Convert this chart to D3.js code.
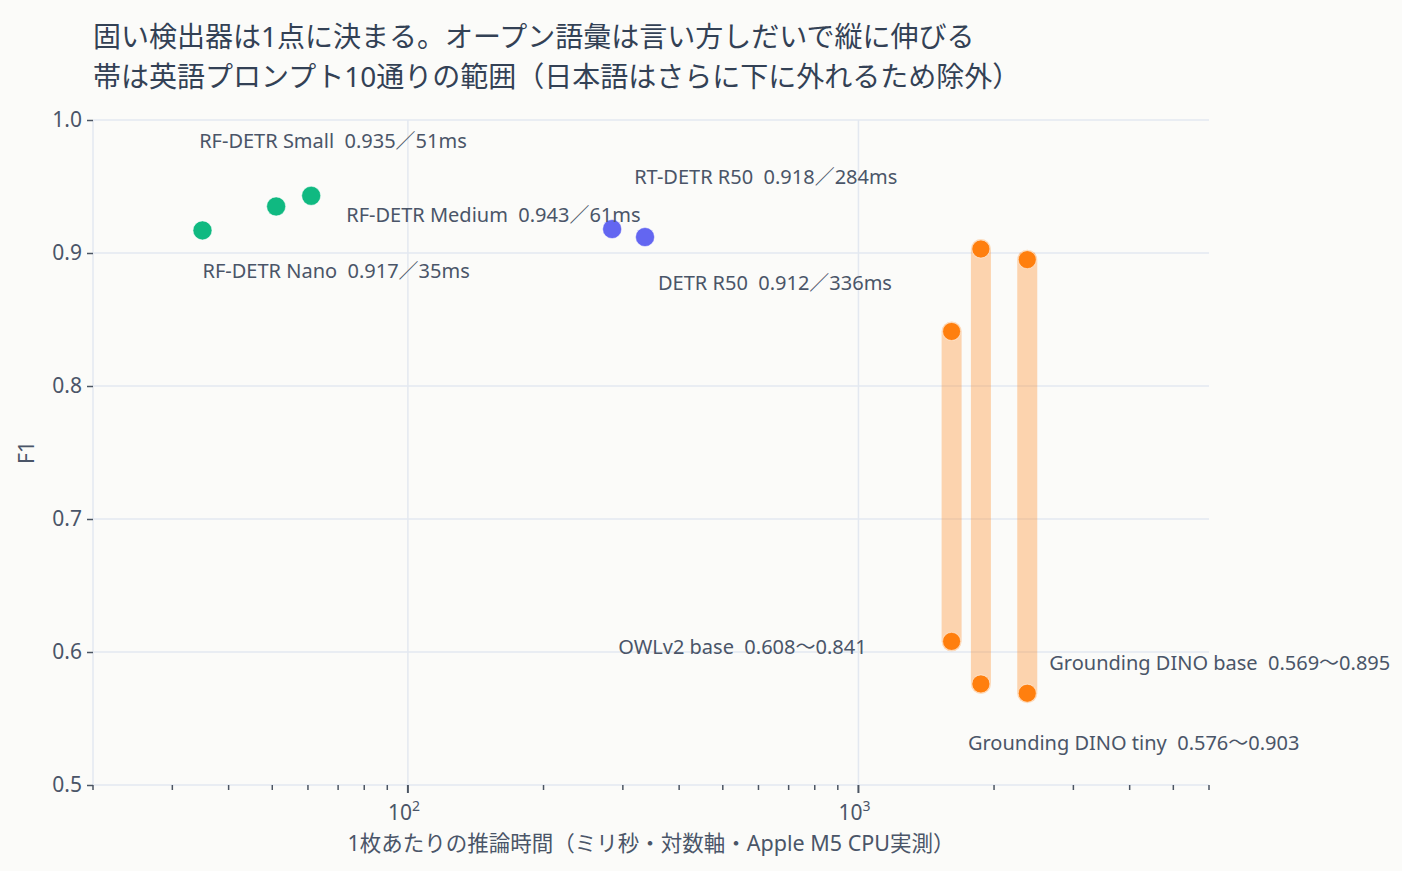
<!DOCTYPE html>
<html>
<head>
<meta charset="utf-8">
<script src="https://cdn.jsdelivr.net/npm/d3@7"></script>
<style>
  html, body { margin: 0; padding: 0; background: #fbfbf9; }
  svg { display: block; font-family: "Noto Sans", "Noto Sans CJK JP", sans-serif; }
</style>
</head>
<body>
<div class="chart"></div>
<script>
// closed-set detectors: one point each
const fixedModels = ["RF-DETR Nano", "RF-DETR Small", "RF-DETR Medium", "RT-DETR R50", "DETR R50"];
const fixedMs = [35, 51, 61, 284, 336];
const fixedF1 = [0.917, 0.935, 0.943, 0.918, 0.912];
const fixedFamily = ["rf", "rf", "rf", "detr", "detr"];

// open-vocabulary detectors: range over 10 English prompts
const openModels = ["OWLv2 base", "Grounding DINO tiny", "Grounding DINO base"];
const openMs = [1610, 1870, 2370];
const openF1Min = [0.608, 0.576, 0.569];
const openF1Max = [0.841, 0.903, 0.895];

const yTicks = [0.5, 0.6, 0.7, 0.8, 0.9, 1.0];
const xMajor = [100, 1000];

const titleLines = [
    "固い検出器は1点に決まる。オープン語彙は言い方しだいで縦に伸びる",
    "帯は英語プロンプト10通りの範囲（日本語はさらに下に外れるため除外）"
];
const xTitle = "1枚あたりの推論時間（ミリ秒・対数軸・Apple M5 CPU実測）";
const yTitle = "F1";

// label placement (pixel offsets from the point / band bottom)
const fixedLabelPos = [
    {dx: 0, dy: 41, anchor: "start"},
    {dx: -77, dy: -65, anchor: "start"},
    {dx: 35, dy: 19, anchor: "start"},
    {dx: 22, dy: -52, anchor: "start"},
    {dx: 13, dy: 46, anchor: "start"}
];
const openLabelPos = [
    {dx: -85, dy: 6, anchor: "end"},
    {dx: -13, dy: 59, anchor: "start"},
    {dx: 22, dy: -30, anchor: "start"}
];

const colors = {rf: "#10b981", detr: "#6366f1", open: "#ff7f0e"};
const textColor = "#4a5568";
const gridColor = "#e3e8f0";

const W = 1402, H = 871;
const margin = {top: 120, right: 193, bottom: 86, left: 93};

const svg = d3.select(".chart")
    .append("svg")
    .attr("width", W)
    .attr("height", H);

svg.append("rect").attr("width", W).attr("height", H).attr("fill", "#fbfbf9");

const x = d3.scaleLog()
    .domain([20, 6000])
    .range([margin.left, W - margin.right]);
const y = d3.scaleLinear()
    .domain([0.5, 1.0])
    .range([H - margin.bottom, margin.top]);

// grid
svg.append("g")
    .selectAll("line")
    .data(yTicks)
    .enter()
    .append("line")
    .attr("x1", x(20)).attr("x2", x(6000))
    .attr("y1", d => y(d)).attr("y2", d => y(d))
    .attr("stroke", gridColor).attr("stroke-width", 1.5);

svg.append("g")
    .selectAll("line")
    .data([20].concat(xMajor))
    .enter()
    .append("line")
    .attr("x1", d => x(d)).attr("x2", d => x(d))
    .attr("y1", y(0.5)).attr("y2", y(1.0))
    .attr("stroke", gridColor).attr("stroke-width", 1.5);

// y axis
const yAxis = svg.append("g")
    .attr("transform", "translate(" + x(20) + ",0)")
    .call(d3.axisLeft(y).tickValues(yTicks).tickFormat(d3.format(".1f")).tickSize(6).tickPadding(5));
yAxis.select(".domain").remove();
yAxis.selectAll(".tick line").attr("stroke", "#4b5563").attr("stroke-width", 1.5);
yAxis.selectAll(".tick text")
    .attr("fill", textColor)
    .style("font-size", "21px")
    .style("font-family", "\"Noto Sans\", sans-serif");

// x axis: minor + major ticks
const allTicks = x.ticks().filter(d => d >= 20 && d <= 6000);
const xAxis = svg.append("g")
    .attr("transform", "translate(0," + y(0.5) + ")");
xAxis.selectAll("line")
    .data(allTicks)
    .enter()
    .append("line")
    .attr("x1", d => x(d)).attr("x2", d => x(d))
    .attr("y1", 0)
    .attr("y2", d => xMajor.includes(d) ? 8 : 5)
    .attr("stroke", "#4b5563")
    .attr("stroke-width", d => xMajor.includes(d) ? 2 : 1.5);

const xLab = xAxis.selectAll("text")
    .data(xMajor)
    .enter()
    .append("text")
    .attr("x", d => x(d) - 4)
    .attr("y", 35)
    .attr("text-anchor", "middle")
    .attr("fill", textColor)
    .style("font-size", "21px");
xLab.append("tspan").text("10");
xLab.append("tspan")
    .attr("dy", -9)
    .style("font-size", "14px")
    .text(d => Math.round(Math.log10(d)));

// axis titles
svg.append("text")
    .attr("x", (x(20) + x(6000)) / 2)
    .attr("y", 851)
    .attr("text-anchor", "middle")
    .attr("fill", textColor)
    .style("font-size", "21.5px")
    .text(xTitle);

svg.append("text")
    .attr("transform", "translate(34," + (y(0.75)) + ") rotate(-90)")
    .attr("text-anchor", "middle")
    .attr("fill", textColor)
    .style("font-size", "21px")
    .text(yTitle);

// title
svg.append("g")
    .selectAll("text")
    .data(titleLines)
    .enter()
    .append("text")
    .attr("x", 93)
    .attr("y", (d, i) => 47 + i * 40)
    .attr("fill", "#334155")
    .style("font-size", "28px")
    .text(d => d);

// open-vocab bands
const openData = openModels.map((m, i) => ({
    name: m, ms: openMs[i], lo: openF1Min[i], hi: openF1Max[i], pos: openLabelPos[i]
}));

svg.append("g")
    .selectAll("line")
    .data(openData)
    .enter()
    .append("line")
    .attr("x1", d => x(d.ms)).attr("x2", d => x(d.ms))
    .attr("y1", d => y(d.lo)).attr("y2", d => y(d.hi))
    .attr("stroke", colors.open)
    .attr("stroke-opacity", 0.32)
    .attr("stroke-width", 20)
    .attr("stroke-linecap", "round");

const ends = [];
openData.forEach(d => { ends.push({ms: d.ms, f1: d.lo}); ends.push({ms: d.ms, f1: d.hi}); });
svg.append("g")
    .selectAll("circle")
    .data(ends)
    .enter()
    .append("circle")
    .attr("cx", d => x(d.ms))
    .attr("cy", d => y(d.f1))
    .attr("r", 9)
    .attr("fill", colors.open)
    .attr("stroke", "#fff")
    .attr("stroke-opacity", 0.5)
    .attr("stroke-width", 1);

svg.append("g")
    .selectAll("text")
    .data(openData)
    .enter()
    .append("text")
    .attr("x", d => x(d.ms) + d.pos.dx)
    .attr("y", d => y(d.lo) + d.pos.dy)
    .attr("dy", "0.35em")
    .attr("text-anchor", d => d.pos.anchor)
    .attr("fill", textColor)
    .style("font-size", "20px")
    .style("white-space", "pre")
    .text(d => d.name + "  " + d.lo.toFixed(3) + "〜" + d.hi.toFixed(3));

// fixed detectors
const fixedData = fixedModels.map((m, i) => ({
    name: m, ms: fixedMs[i], f1: fixedF1[i], fam: fixedFamily[i], pos: fixedLabelPos[i]
}));

svg.append("g")
    .selectAll("circle")
    .data(fixedData)
    .enter()
    .append("circle")
    .attr("cx", d => x(d.ms))
    .attr("cy", d => y(d.f1))
    .attr("r", 9.5)
    .attr("fill", d => colors[d.fam])
    .attr("stroke", "#fff")
    .attr("stroke-opacity", 0.5)
    .attr("stroke-width", 1);

svg.append("g")
    .selectAll("text")
    .data(fixedData)
    .enter()
    .append("text")
    .attr("x", d => x(d.ms) + d.pos.dx)
    .attr("y", d => y(d.f1) + d.pos.dy)
    .attr("dy", "0.35em")
    .attr("text-anchor", d => d.pos.anchor)
    .attr("fill", textColor)
    .style("font-size", "20px")
    .style("white-space", "pre")
    .text(d => d.name + "  " + d.f1.toFixed(3) + "／" + d.ms + "ms");
</script>
</body>
</html>
